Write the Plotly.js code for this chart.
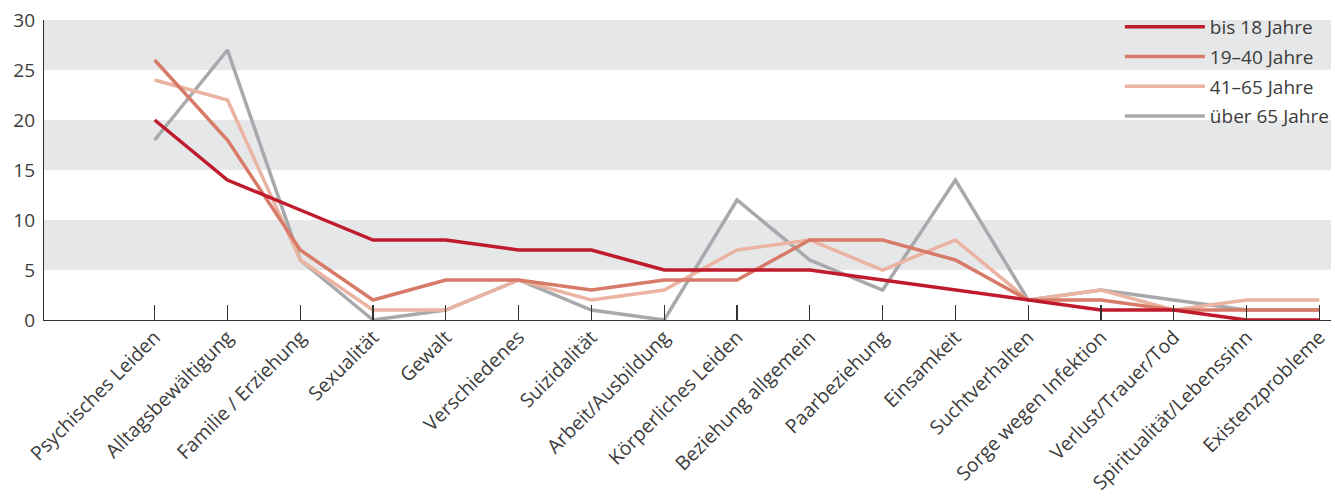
<!DOCTYPE html>
<html><head><meta charset="utf-8">
<script src="https://cdn.plot.ly/plotly-3.0.1.min.js"></script>
<style>html,body{margin:0;padding:0;background:#fff}#chart{width:1335px;height:500px}</style>
</head><body><div id="chart"></div>
<script>
const categories = ["Psychisches Leiden","Alltagsbewältigung","Familie / Erziehung","Sexualität","Gewalt","Verschiedenes","Suizidalität","Arbeit/Ausbildung","Körperliches Leiden","Beziehung allgemein","Paarbeziehung","Einsamkeit","Suchtverhalten","Sorge wegen Infektion","Verlust/Trauer/Tod","Spiritualität/Lebenssinn","Existenzprobleme"];
const bis18   = [20,14,11,8,8,7,7,5,5,5,4,3,2,1,1,0,0];
const j19_40  = [26,18,7,2,4,4,3,4,4,8,8,6,2,2,1,1,1];
const j41_65  = [24,22,6,1,1,4,2,3,7,8,5,8,2,3,1,2,2];
const ueber65 = [18,27,6,0,1,4,1,0,12,6,3,14,2,3,2,1,1];
const seriesNames = ["bis 18 Jahre","19–40 Jahre","41–65 Jahre","über 65 Jahre"];
const yTicks = [0,5,10,15,20,25,30];
const bands = [[5,10],[15,20],[25,30]];

const colors = ["#c01b2c","#d87a68","#ebb3a2","#a8a9ac"];
const data = [bis18, j19_40, j41_65, ueber65];
const traces = data.map((v,i)=>({
  type:"scatter", mode:"lines", x:categories, y:v, name:seriesNames[i],
  legendgroup:"g"+i, legendrank:i+1,
  line:{color:colors[i], width:3.5}
}));
// draw order: gray at bottom, red on top; legend keeps original order
const ordered = [traces[3],traces[2],traces[1],traces[0]];

const layout = {
  width:1335, height:500,
  margin:{l:44, r:0, t:20, b:180},
  paper_bgcolor:"#fff", plot_bgcolor:"#fff",
  font:{family:"Open Sans, sans-serif", color:"#3c3c3c", size:17},
  showlegend:true,
  legend:{x:1.003, xanchor:"right", y:1.04, yanchor:"top", bgcolor:"rgba(0,0,0,0)",
          font:{size:19, color:"#3c3c3c"}, itemwidth:80, tracegroupgap:2,
          traceorder:"grouped"},
  xaxis:{type:"category", range:[-1.52,16.16], showgrid:false, zeroline:false,
         showline:true, linecolor:"#333", linewidth:1.2,
         ticks:"inside", ticklen:15, tickcolor:"#333", tickwidth:1.2,
         tickangle:-45, ticklabelstandoff:-3, tickfont:{size:19.5, color:"#3c3c3c"}},
  yaxis:{range:[0,30], tickvals:yTicks, showgrid:false, zeroline:false,
         showline:true, linecolor:"#333", linewidth:1.2, ticks:"",
         tickfont:{size:19, color:"#3c3c3c"}, ticklabelstandoff:4},
  shapes: bands.map(b=>({type:"rect", xref:"paper", yref:"y", x0:0, x1:1, y0:b[0], y1:b[1],
           fillcolor:"#e6e7e8", line:{width:0}, layer:"below"}))
};
Plotly.newPlot("chart", ordered, layout, {staticPlot:true, displayModeBar:false});
</script></body></html>
